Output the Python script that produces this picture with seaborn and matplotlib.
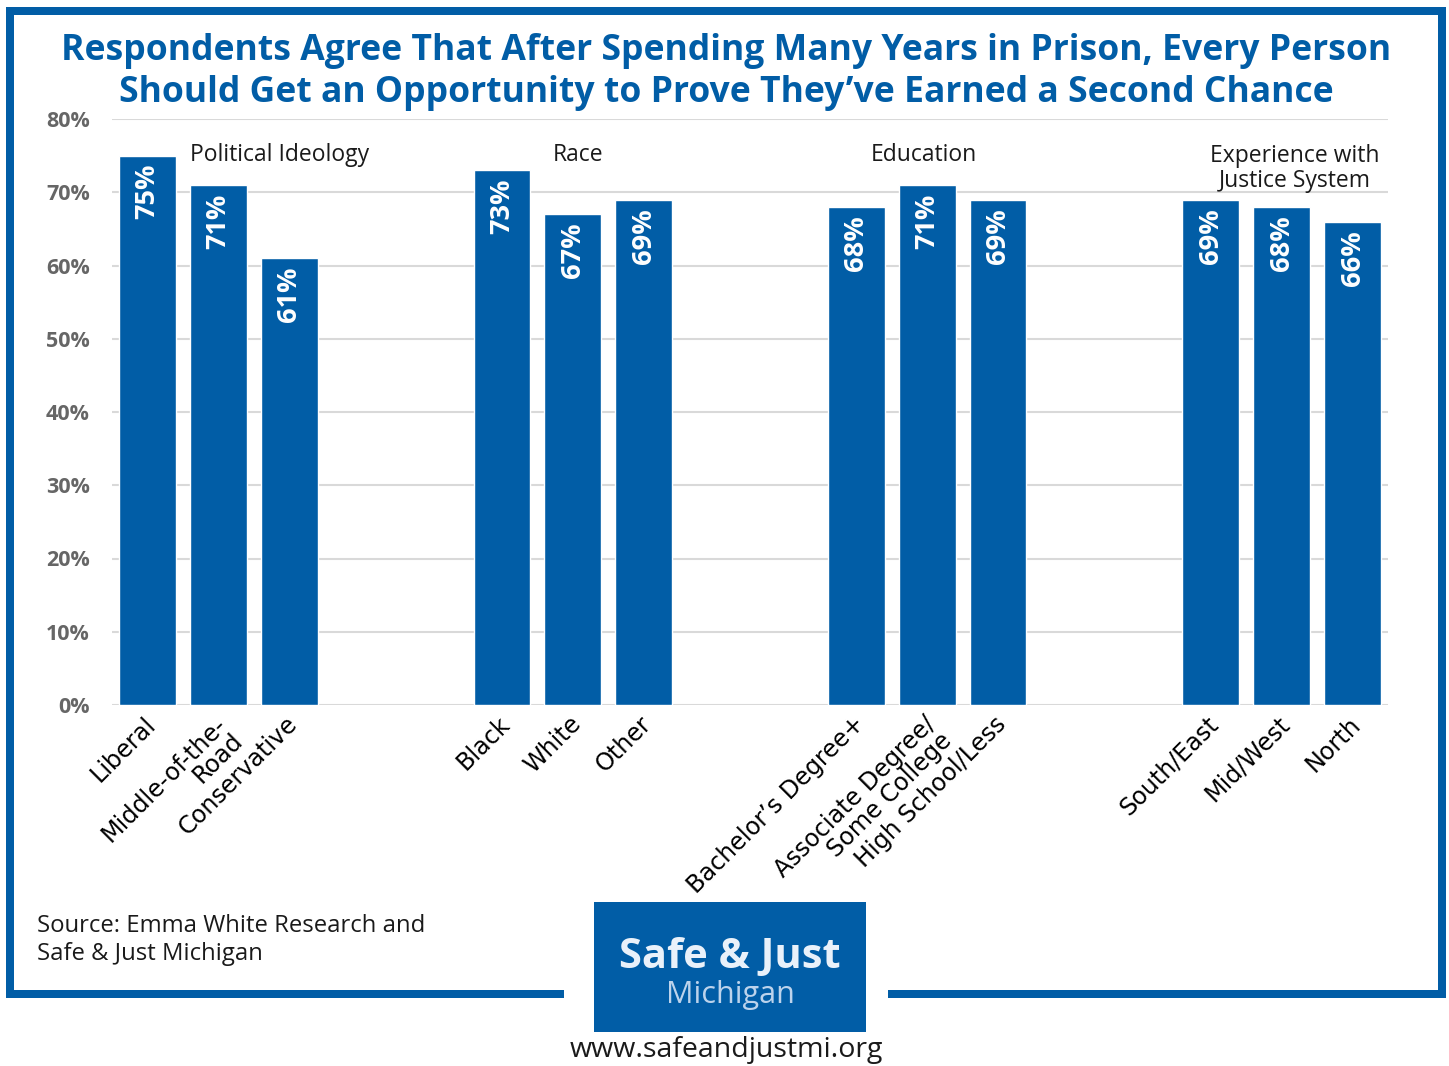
import matplotlib
matplotlib.use("Agg")
import matplotlib.pyplot as plt
from matplotlib.patches import Rectangle
from matplotlib.lines import Line2D
import seaborn as sns
import pandas as pd

# --- data -----------------------------------------------------------------
groups = ["Political Ideology", "Race", "Education", "Experience with\nJustice System"]
categories = [
    ["Liberal", "Middle-of-the-\nRoad", "Conservative"],
    ["Black", "White", "Other"],
    ["Bachelor\u2019s Degree+", "Associate Degree/\nSome College", "High School/Less"],
    ["South/East", "Mid/West", "North"],
]
values = [
    [75, 71, 61],
    [73, 67, 69],
    [68, 71, 69],
    [69, 68, 66],
]
y_ticks = [0, 10, 20, 30, 40, 50, 60, 70, 80]

title = ("Respondents Agree That After Spending Many Years in Prison, Every Person\n"
         "Should Get an Opportunity to Prove They\u2019ve Earned a Second Chance")
source = "Source: Emma White Research and\nSafe & Just Michigan"
url = "www.safeandjustmi.org"

BLUE = "#015DA6"
FONT = "Open Sans"
TICK_FONT = "DejaVu Sans"

# --- table: each group occupies 3 slots followed by a 2-slot gap ----------
rows = []
for g, (grp, cats, vals) in enumerate(zip(groups, categories, values)):
    for i, (c, v) in enumerate(zip(cats, vals)):
        rows.append({"group": grp, "category": c, "value": v, "pos": g * 5 + i})
df = pd.DataFrame(rows)

sns.set_theme(style="white")
plt.rcParams["font.family"] = [FONT, "DejaVu Sans"]

W, H = 1449, 1066
fig = plt.figure(figsize=(W / 100, H / 100), dpi=100)
fig.patch.set_facecolor("white")


def fx(px):
    return px / W


def fy(py):
    return 1 - py / H


ax = fig.add_axes([fx(112), fy(705), fx(1388) - fx(112), fy(119) - fy(705)])

sns.barplot(data=df, x="pos", y="value", native_scale=True, width=0.8,
            color=BLUE, saturation=1, ax=ax, zorder=3, errorbar=None)

ax.set_xlim(-0.5, 17.5)
ax.set_ylim(0, 80)
ax.set_yticks(y_ticks)
ax.set_yticklabels([f"{t}%" for t in y_ticks], fontsize=15.5, fontweight="bold",
                   color="#666666")
ax.yaxis.grid(True, color="#d9d9d9", linewidth=1.5, zorder=0)
ax.tick_params(axis="y", length=0, pad=16)
ax.tick_params(axis="x", length=0, pad=0)
for s in ax.spines.values():
    s.set_visible(False)
ax.set_xlabel("")
ax.set_ylabel("")

ax.set_xticks(df["pos"])
ax.set_xticklabels([])
for p, c in zip(df["pos"], df["category"]):
    ax.annotate(c, xy=(p, 0), xytext=(-3, -5), textcoords="offset points",
                rotation=45, rotation_mode="anchor", ha="right", va="top",
                fontsize=17.2, family=TICK_FONT, color="black", linespacing=0.98,
                annotation_clip=False)

# value labels inside bars
for p, v in zip(df["pos"], df["value"]):
    ax.annotate(f"{v}%", xy=(p, v), xytext=(0, -6), textcoords="offset points",
                rotation=90, ha="center", va="top", fontsize=19.5,
                fontweight="bold", color="white", zorder=5)

# group headings
group_label_pos = [(1.87, 75.1), (6.07, 75.1), (10.95, 75.1), (16.18, 73.3)]
for grp, (gx, gy) in zip(groups, group_label_pos):
    ax.text(gx, gy, grp, ha="center", va="center", fontsize=16.5,
            color="#1a1a1a", linespacing=1.05)

# title
fig.text(fx(726), fy(72), title, ha="center", va="center", fontsize=25.6,
         fontweight="bold", color=BLUE, linespacing=1.2)

# frame around the chart, open at the bottom for the logo
lw = 8 * 72 / 100
frame = [
    ((6, 1446), (11, 11)),
    ((10, 10), (7, 998)),
    ((1442, 1442), (7, 998)),
    ((6, 564), (994, 994)),
    ((888, 1446), (994, 994)),
]
for xs, ys in frame:
    fig.add_artist(Line2D([fx(x) for x in xs], [fy(y) for y in ys],
                          color=BLUE, linewidth=lw, solid_capstyle="butt"))

# source note
fig.text(fx(37), fy(940), source, ha="left", va="center", fontsize=17.2,
         color="#1a1a1a", linespacing=1.25)

# logo block
fig.add_artist(Rectangle((fx(594), fy(1032)), fx(866) - fx(594),
                         fy(902) - fy(1032), color=BLUE, linewidth=0))
fig.text(fx(730), fy(957), "Safe & Just", ha="center", va="center",
         fontsize=30, fontweight="bold", color="#e9f1fa")
fig.text(fx(730), fy(995), "Michigan", ha="center", va="center",
         fontsize=22, color="#bcd3ec")
fig.text(fx(726), fy(1050), url, ha="center", va="center", fontsize=20.5,
         color="#1a1a1a")

fig.savefig("out.png", dpi=100, facecolor="white")
